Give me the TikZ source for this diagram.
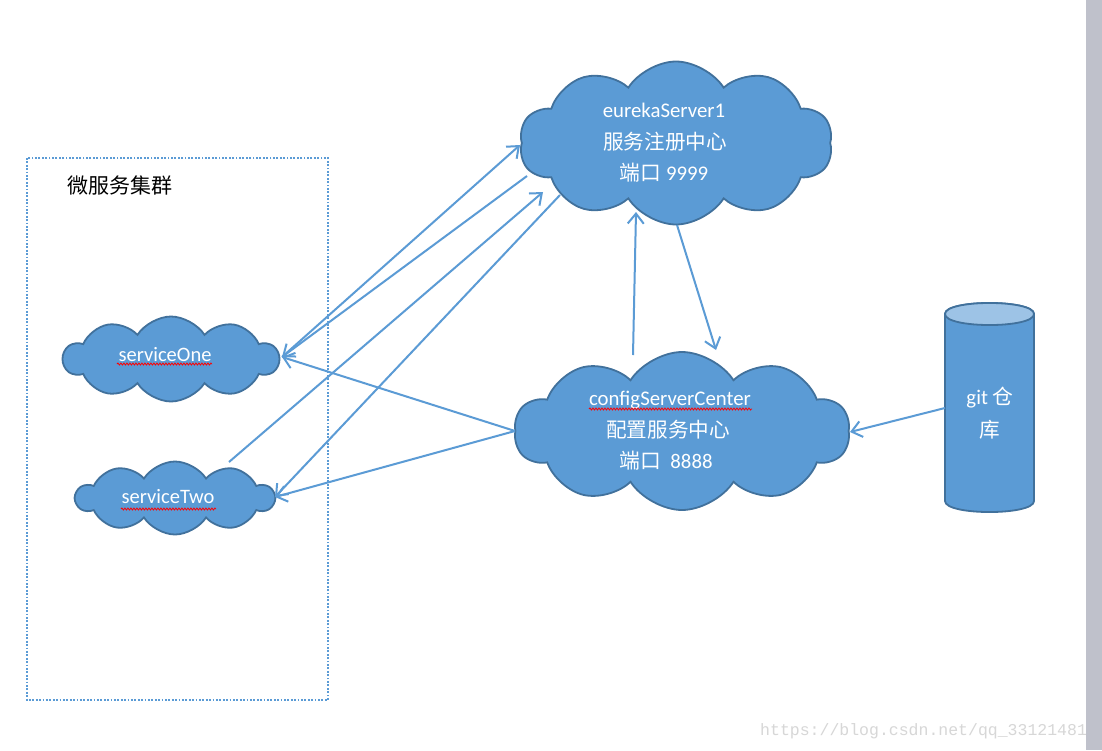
\documentclass[tikz,border=0pt]{standalone}
\usepackage{fontspec}
\setmainfont{Carlito}
\newfontfamily\cjk{Noto Sans CJK SC}
\newfontfamily\wmfont{Liberation Mono}
\usetikzlibrary{shapes.symbols,arrows.meta,decorations.pathmorphing}
\definecolor{fillb}{HTML}{5B9BD5}
\definecolor{edgeb}{HTML}{41719C}
\definecolor{capb}{HTML}{9DC3E6}
\definecolor{graybar}{RGB}{191,193,203}
\definecolor{wmgray}{RGB}{215,215,215}
\tikzset{
  cloudbox/.style={cloud, cloud puffs=10, cloud puff arc=115, draw=edgeb, fill=fillb, line width=1.8pt, inner sep=0pt},
  wtext/.style={text=white, inner sep=0pt, font=\fontsize{20.8}{25}\selectfont},
  ctext/.style={text=white, inner sep=0pt, font=\cjk\fontsize{20.6}{25}\selectfont},
  stext/.style={text=white, inner sep=0pt, font=\fontsize{20.5}{24}\selectfont},
  conn/.style={draw=fillb, line width=2pt, -{Straight Barb[length=10pt,width=16pt,line width=2pt]}},
  spell/.style={draw=red, line width=0.8pt, decorate, decoration={snake, amplitude=1pt, segment length=3pt}}
}
\begin{document}
\begin{tikzpicture}[x=1pt,y=-1pt]
\useasboundingbox (0,0) rectangle (1102,750);
\fill[white] (0,0) rectangle (1102,750);
% dotted group box
\draw[fillb, line width=1.8pt, dash pattern=on 1.8pt off 1.6pt] (27,158) rectangle (328,700);
\node[inner sep=0pt, font=\cjk\fontsize{21}{25}\selectfont] (grp) at (120,186) {微服务集群};
% clouds
\node[cloudbox, minimum width=313pt, minimum height=163pt] (eureka) at (676,143) {};
\node[cloudbox, minimum width=335pt, minimum height=158pt] (config) at (682,431) {};
\node[cloudbox, minimum width=215pt, minimum height=85pt] (s1) at (171,359) {};
\node[cloudbox, minimum width=198pt, minimum height=73pt] (s2) at (175,498) {};
% cloud texts
\node[wtext] (et1) at (664,110) {eurekaServer1};
\node[ctext] (et2) at (665,142) {服务注册中心};
\node[wtext] (et3) at (664,173) {{\cjk 端口} 9999};
\node[wtext] (ct1) at (670,400) {configServerCenter};
\node[ctext] (ct2) at (668,430) {配置服务中心};
\node[wtext] (ct3) at (666,461) {{\cjk 端口}\ \ 8888};
\node[stext] (st1) at (165,355) {serviceOne};
\node[stext] (st2) at (168,497) {serviceTwo};
\draw[spell] (117,364) -- (212,364);
\draw[spell] (121,509) -- (216,509);
\draw[spell] (589,409) -- (752,409);
% git cylinder
\path[fill=fillb, draw=edgeb, line width=1.8pt]
  (945,314) -- (945,501) .. controls (945,515.7) and (1034,515.7) .. (1034,501)
  -- (1034,314) .. controls (1034,299.3) and (945,299.3) .. (945,314) -- cycle;
\path[fill=capb, draw=edgeb, line width=1.8pt]
  (945,314) .. controls (945,299.3) and (1034,299.3) .. (1034,314)
  .. controls (1034,328.7) and (945,328.7) .. (945,314) -- cycle;
\node[wtext] (gt1) at (990,398) {git {\cjk 仓}};
\node[ctext] (gt2) at (990,430) {库};
% connector end points
\coordinate (s1in) at (282,357);
\coordinate (eA) at (520,145);
\coordinate (eB) at (527,176);
\coordinate (s2out) at (229,462);
\coordinate (eC) at (543,192);
\coordinate (eD) at (560,195);
\coordinate (s2in) at (275,497);
\coordinate (cE) at (515,431);
\coordinate (cU) at (633,355);
\coordinate (eU) at (636,212);
\coordinate (eV) at (677,225);
\coordinate (cV) at (716,350);
\coordinate (gL) at (945,408);
\coordinate (cG) at (850,432);
% connectors
\draw[conn] (s1in) -- (eA);
\draw[conn] (eB) -- (s1in);
\draw[conn] (s2out) -- (eC);
\draw[conn] (eD) -- (s2in);
\draw[conn] (cE) -- (s1in);
\draw[conn] (cE) -- (s2in);
\draw[conn] (cU) -- (eU);
\draw[conn] (eV) -- (cV);
\draw[conn] (gL) -- (cG);
% watermark and side bar
\node[anchor=west, inner sep=0pt, text=wmgray, font=\wmfont\fontsize{16.5}{20}\selectfont] (wm) at (760,731) {https://blog.csdn.net/qq\_33121481};
\fill[graybar] (1086,0) rectangle (1102,750);
\end{tikzpicture}
\end{document}
